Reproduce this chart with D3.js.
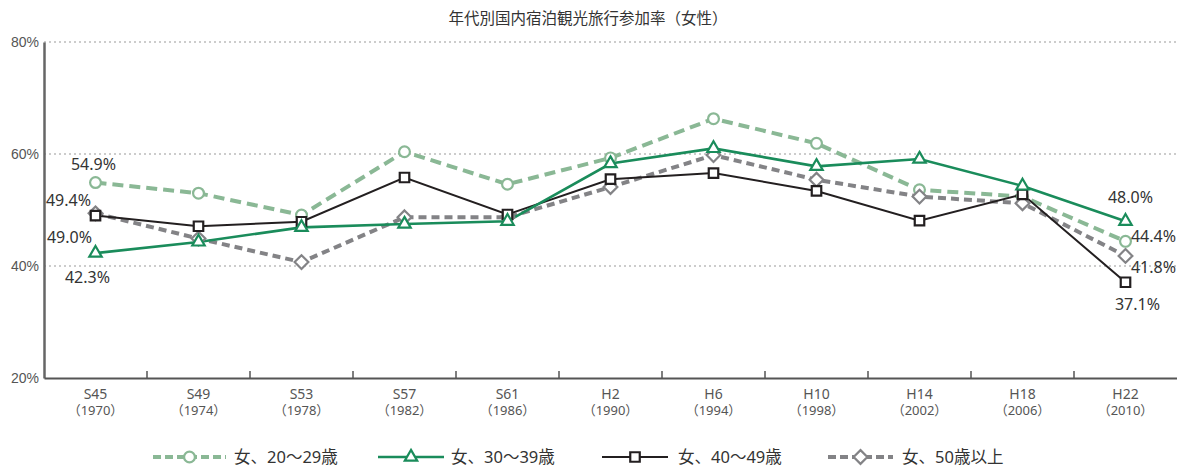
<!DOCTYPE html>
<html><head><meta charset="utf-8">
<script src="https://cdn.jsdelivr.net/npm/d3@7"></script>
<style>
body{margin:0;background:#fff;}
svg{display:block;font-family:"Noto Sans","Noto Sans CJK JP",sans-serif;}
</style></head>
<body><svg id="c" width="1177" height="468"></svg>
<script>
const categories = ["S45","S49","S53","S57","S61","H2","H6","H10","H14","H18","H22"];
const years = ["（1970）","（1974）","（1978）","（1982）","（1986）","（1990）","（1994）","（1998）","（2002）","（2006）","（2010）"];
const yTicks = [20,40,60,80];
const seriesNames = ["女、20〜29歳","女、30〜39歳","女、40〜49歳","女、50歳以上"];
const s20 = [54.9,53.0,49.1,60.4,54.6,59.3,66.3,61.9,53.6,52.4,44.4];
const s30 = [42.3,44.3,46.9,47.5,48.0,58.3,61.0,57.8,59.1,54.3,48.0];
const s40 = [49.0,47.1,47.9,55.8,49.2,55.5,56.6,53.4,48.1,52.8,37.1];
const s50 = [49.4,44.9,40.7,48.7,48.7,54.1,59.8,55.4,52.4,51.2,41.8];
const title = "年代別国内宿泊観光旅行参加率（女性）";

const svg = d3.select("#c");
const L = 44, R = 1177, T = 42, B = 378;
const x = d3.scaleBand().domain(categories).range([L, R]);
const y = d3.scaleLinear().domain([20,80]).range([B, T]);
const cx = c => x(c) + x.bandwidth()/2;

svg.append("text").attr("x",588).attr("y",24).attr("text-anchor","middle")
  .attr("font-size",15.5).attr("fill","#333").text(title);

// grid
svg.append("g").selectAll("line").data(yTicks.filter(t=>t>20)).join("line")
  .attr("x1",L).attr("x2",R).attr("y1",d=>y(d)).attr("y2",d=>y(d))
  .attr("stroke","#999").attr("stroke-width",1).attr("stroke-dasharray","2,3");

// y axis
const ya = svg.append("g").attr("transform",`translate(${L},0)`)
  .call(d3.axisLeft(y).tickValues(yTicks).tickSize(0).tickPadding(5).tickFormat(d=>d+"%"));
ya.select(".domain").attr("stroke","#666").attr("stroke-width",2.5);
ya.selectAll("text").attr("font-size",14).attr("fill","#555").attr("font-family",null);

// x axis
const xa = svg.append("g").attr("transform",`translate(0,${B})`)
  .call(d3.axisBottom(x).tickSize(0).tickFormat(""));
xa.select(".domain").attr("stroke","#555").attr("stroke-width",2);
svg.append("g").selectAll("line").data(categories.slice(1)).join("line")
  .attr("x1",d=>x(d)).attr("x2",d=>x(d)).attr("y1",B).attr("y2",B-7)
  .attr("stroke","#555").attr("stroke-width",1.5);
const xl = svg.append("g");
xl.selectAll("text.c").data(categories).join("text").attr("class","c")
  .attr("x",d=>cx(d)).attr("y",B+21).attr("text-anchor","middle")
  .attr("font-size",14).attr("fill","#555").text(d=>d);
xl.selectAll("text.yr").data(years).join("text").attr("class","yr")
  .attr("x",(d,i)=>cx(categories[i])).attr("y",B+37).attr("text-anchor","middle")
  .attr("font-size",13).attr("fill","#555").text(d=>d);

const series = [
  {vals:s20, color:"#8ab895", w:4, dash:"11,6", shape:"circle"},
  {vals:s30, color:"#1a8c5b", w:2.6, dash:null, shape:"triangle"},
  {vals:s40, color:"#231f20", w:2, dash:null, shape:"square"},
  {vals:s50, color:"#838386", w:4, dash:"8,5", shape:"diamond"}
];
const symMap = {circle:d3.symbolCircle, triangle:d3.symbolTriangle2, square:d3.symbolSquare2, diamond:d3.symbolDiamond2};
const symSize = {circle:92, triangle:110, square:115, diamond:120};

function drawMarker(g, shape, color, px, py){
  g.append("path").attr("d", d3.symbol().type(symMap[shape]).size(symSize[shape])())
    .attr("transform",`translate(${px},${py})`)
    .attr("fill","#fff").attr("stroke",color).attr("stroke-width",2.2);
}

const line = d3.line().x((d,i)=>cx(categories[i])).y(d=>y(d));
[0,3,2,1].forEach(k=>{
  const s = series[k];
  svg.append("path").datum(s.vals).attr("d",line).attr("fill","none")
    .attr("stroke",s.color).attr("stroke-width",s.w)
    .attr("stroke-dasharray",s.dash);
});
[0,3,2,1].forEach(k=>{
  const s = series[k];
  const g = svg.append("g");
  s.vals.forEach((v,i)=>drawMarker(g, s.shape, s.color, cx(categories[i]), y(v)));
});

// data labels
const lbl = (t, px, py) => svg.append("text").attr("x",px).attr("y",py).attr("text-anchor","middle")
  .attr("font-size",16).attr("fill","#333").text(t);
const f = v => d3.format(".1f")(v)+"%";
const c0 = cx(categories[0]), cN = cx(categories[categories.length-1]);
lbl(f(s20[0]), c0-2, y(s20[0])-13);
lbl(f(s50[0]), c0-27, y(s50[0])-7);
lbl(f(s40[0]), c0-26, y(s40[0])+27);
lbl(f(s30[0]), c0-8, y(s30[0])+30);
lbl(f(s30[10]), cN+5, y(s30[10])-18);
lbl(f(s20[10]), cN+28, y(s20[10])+1);
lbl(f(s50[10]), cN+28, y(s50[10])+17);
lbl(f(s40[10]), cN+12, y(s40[10])+28);

// legend
const leg = [
  {x1:153,x2:226,tx:234},
  {x1:378,x2:444,tx:451},
  {x1:602,x2:668,tx:678},
  {x1:828,x2:893,tx:902}
];
const ly = 457;
leg.forEach((p,k)=>{
  const s = series[k];
  svg.append("line").attr("x1",p.x1).attr("x2",p.x2).attr("y1",ly).attr("y2",ly)
    .attr("stroke",s.color).attr("stroke-width",s.w).attr("stroke-dasharray",s.dash?"8,4":null);
  drawMarker(svg, s.shape, s.color, (p.x1+p.x2)/2, ly);
  svg.append("text").attr("x",p.tx).attr("y",ly+6).attr("font-size",16.5).attr("fill","#333")
    .text(seriesNames[k]);
});
</script></body></html>
